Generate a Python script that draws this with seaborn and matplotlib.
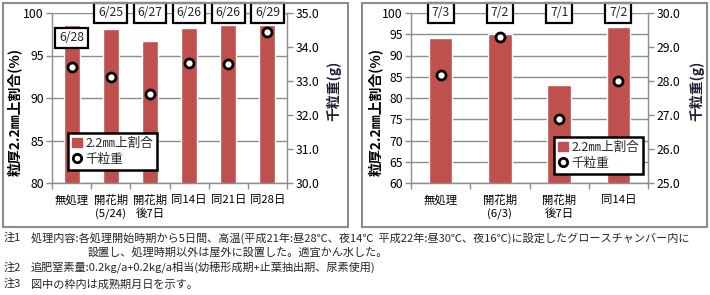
import numpy as np
import pandas as pd
import matplotlib
matplotlib.use('Agg')
import matplotlib.pyplot as plt
import matplotlib.transforms as mtransforms
import seaborn as sns
from matplotlib.patches import Rectangle
from matplotlib.lines import Line2D
from matplotlib.ticker import FormatStrFormatter, FixedLocator, NullFormatter

sns.set_style('white')
plt.rcParams['font.family'] = ['Noto Sans CJK JP', 'DejaVu Sans']

# ---------------- data ----------------
left_cats = ['無処理', '開花期\n(5/24)', '開花期\n後7日', '同14日', '同21日', '同28日']
left_ratio = [98.6, 98.1, 96.7, 98.2, 98.6, 98.6]
left_weight = [33.42, 33.13, 32.61, 33.54, 33.50, 34.44]
left_dates = ['6/28', '6/25', '6/27', '6/26', '6/26', '6/29']

right_cats = ['無処理', '開花期\n(6/3)', '開花期\n後7日', '同14日']
right_ratio = [94.2, 95.1, 83.1, 96.8]
right_weight = [28.18, 29.28, 26.88, 28.00]
right_dates = ['7/3', '7/2', '7/1', '7/2']

left_yticks = [80, 85, 90, 95, 100]
left_y2ticks = [30.0, 31.0, 32.0, 33.0, 34.0, 35.0]
right_yticks = [60, 65, 70, 75, 80, 85, 90, 95, 100]
right_y2ticks = [25.0, 26.0, 27.0, 28.0, 29.0, 30.0]

ylabel_left = '粒厚2.2㎜上割合(%)'
ylabel_right = '千粒重(g)'
legend_labels = ['2.2㎜上割合', '千粒重']

notes = [
    ('注1', '処理内容:各処理開始時期から5日間、高温(平成21年:昼28℃、夜14℃  平成22年:昼30℃、夜16℃)に設定したグロースチャンバー内に'),
    ('', '設置し、処理時期以外は屋外に設置した。適宜かん水した。'),
    ('注2', '追肥窒素量:0.2kg/a+0.2kg/a相当(幼穂形成期+止葉抽出期、尿素使用)'),
    ('注3', '図中の枠内は成熟期月日を示す。'),
]

# ---------------- style ----------------
W, H = 710, 295
BAR = '#C0504D'
GRID = '#8c8c8c'
FS = 8.8
XFS = 8.2

fig = plt.figure(figsize=(W / 100, H / 100), dpi=100)


def fr(x0, y0, x1, y1):
    return [x0 / W, 1 - y1 / H, (x1 - x0) / W, (y1 - y0) / H]


def panel(rect, cats, ratio, weight, dates, date_pos, yticks, y2ticks,
          barw, leg_xy, ylab_x, y2lab_x):
    ax = fig.add_axes(rect)
    df = pd.DataFrame({'cat': cats, 'ratio': ratio, 'weight': weight})
    sns.barplot(data=df, x='cat', y='ratio', order=cats, ax=ax, color=BAR,
                saturation=1, width=barw, zorder=2)
    n = len(cats)
    ax.set_ylim(yticks[0], yticks[-1])
    ax.set_yticks(yticks)
    ax.set_xlim(-0.5, n - 0.5)
    ax.yaxis.grid(True, color=GRID, lw=1.0, zorder=0)
    ax.xaxis.grid(False)
    ax.set_axisbelow(True)
    for s in ['top', 'right']:
        ax.spines[s].set_visible(False)
    for s in ['left', 'bottom']:
        ax.spines[s].set_color(GRID)
        ax.spines[s].set_linewidth(1.0)
    ax.set_xlabel('')
    ax.set_ylabel(ylabel_left, fontsize=10, fontweight='bold', color='black')
    ax.yaxis.set_label_coords(ylab_x, 0.42)
    ax.tick_params(axis='y', which='major', direction='out', length=4, width=1,
                   color=GRID, labelsize=FS, labelcolor='black', pad=2, left=True)
    ax.tick_params(axis='x', which='major', length=0, labelsize=XFS,
                   labelcolor='black', pad=8.5)
    ax.xaxis.set_minor_locator(FixedLocator(np.arange(n + 1) - 0.5))
    ax.xaxis.set_minor_formatter(NullFormatter())
    ax.tick_params(axis='x', which='minor', direction='out', length=4, width=1,
                   color=GRID, bottom=True)
    for lab in ax.get_xticklabels():
        lab.set_linespacing(1.3)

    ax2 = ax.twinx()
    sns.pointplot(data=df, x='cat', y='weight', order=cats, ax=ax2,
                  color='black', linestyle='none', marker='o', markersize=6.5,
                  markeredgewidth=2.0, markerfacecolor='white',
                  errorbar=None, zorder=5)
    ax2.set_xlim(-0.5, n - 0.5)
    ax2.set_ylim(y2ticks[0], y2ticks[-1])
    ax2.set_yticks(y2ticks)
    ax2.yaxis.set_major_formatter(FormatStrFormatter('%.1f'))
    for s in ['top', 'left', 'bottom']:
        ax2.spines[s].set_visible(False)
    ax2.spines['right'].set_color(GRID)
    ax2.spines['right'].set_linewidth(1.0)
    ax2.grid(False)
    ax2.set_xlabel('')
    ax2.tick_params(axis='y', direction='out', length=4, width=1, color=GRID,
                    labelsize=FS, labelcolor='black', pad=2, right=True)
    ax2.set_ylabel(ylabel_right, fontsize=10, fontweight='bold',
                   color='#231c33', rotation=90)
    ax2.yaxis.set_label_coords(y2lab_x, 0.54)

    trans = mtransforms.blended_transform_factory(ax2.transData, ax2.transAxes)
    for i, (d, p) in enumerate(zip(dates, date_pos)):
        ax2.text(i, p, d, transform=trans, ha='center', va='center',
                 fontsize=FS, clip_on=False, zorder=10,
                 bbox=dict(boxstyle='square,pad=0.32', fc='white', ec='black', lw=1.6))

    handles = [Rectangle((0, 0), 1, 1, color=BAR),
               Line2D([], [], marker='o', linestyle='none', markersize=6,
                      markerfacecolor='white', markeredgecolor='black',
                      markeredgewidth=2.0)]
    leg = ax2.legend(handles, legend_labels, loc='upper left',
                     bbox_to_anchor=(leg_xy[0] / W, 1 - leg_xy[1] / H),
                     bbox_transform=fig.transFigure, borderaxespad=0,
                     fontsize=FS + 0.3, frameon=True, fancybox=False,
                     edgecolor='black', framealpha=1, handlelength=0.8,
                     handleheight=0.8, handletextpad=0.3, borderpad=0.3,
                     labelspacing=0.25)
    leg.get_frame().set_linewidth(1.8)
    leg.set_zorder(20)
    return ax, ax2


panel(fr(52, 13, 287, 183), left_cats, left_ratio, left_weight, left_dates,
      [0.853, 1, 1, 1, 1, 1], left_yticks, left_y2ticks, 0.41,
      (68, 133), -0.128, 1.168)
panel(fr(411, 13, 648, 183), right_cats, right_ratio, right_weight, right_dates,
      [1, 1, 1, 1], right_yticks, right_y2ticks, 0.40,
      (554, 137), -0.12, 1.172)

# panel frames
for x0, x1 in [(3, 348), (362, 707)]:
    fig.patches.append(Rectangle((x0 / W, 1 - 227 / H), (x1 - x0) / W, 224 / H,
                                 transform=fig.transFigure, fill=False,
                                 ec='#8c8c8c', lw=1.5))

# notes
NFS = 8.0
note_y = [238, 253, 268, 284]
for (head, body), y in zip(notes, note_y):
    if head:
        fig.text(4 / W, 1 - y / H, head, fontsize=NFS, va='center', ha='left')
        fig.text(31 / W, 1 - y / H, body, fontsize=NFS, va='center', ha='left')
    else:
        fig.text(88 / W, 1 - y / H, body, fontsize=NFS, va='center', ha='left')

fig.savefig('out.png', dpi=100)
